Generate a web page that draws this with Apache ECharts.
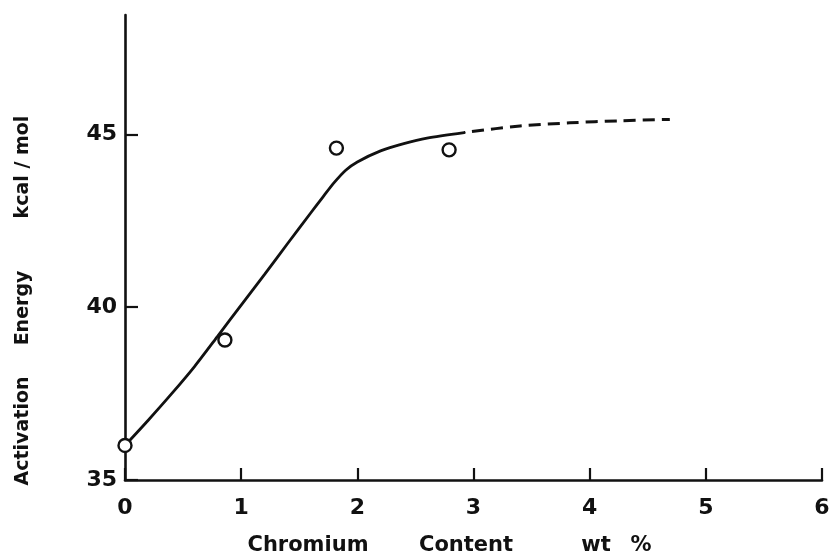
<!DOCTYPE html>
<html>
<head>
<meta charset="utf-8">
<script src="https://cdn.jsdelivr.net/npm/echarts@6/dist/echarts.min.js"></script>
<style>
  html, body { margin: 0; padding: 0; background: #ffffff; }
  #chart { width: 833px; height: 556px; }
</style>
</head>
<body>
<div id="chart"></div>
<script>
// Measured activation energies (kcal/mol) against chromium content (wt %)
const measuredCr = [0, 0.86, 1.82, 2.79];
const measuredQ = [36.0, 39.05, 44.6, 44.55];

// Fitted trend through the measurements (solid part)
const trendCr = [0, 0.2, 0.4, 0.6, 0.8, 1.0, 1.2, 1.4, 1.6, 1.7, 1.8, 1.9, 2.0, 2.2, 2.4, 2.6, 2.92];
const trendQ = [36.0, 36.73, 37.49, 38.29, 39.17, 40.06, 40.94, 41.84, 42.73, 43.17, 43.6, 43.96, 44.2, 44.52, 44.73, 44.89, 45.05];

// Extrapolated part of the trend (dashed)
const extrapCr = [2.92, 3.4, 3.83, 4.26, 4.69];
const extrapQ = [45.05, 45.24, 45.33, 45.39, 45.43];

// Axis ticks
const xTicks = [0, 1, 2, 3, 4, 5, 6];
const yTicks = [35, 40, 45];

const xTitleWords = ['Chromium', 'Content', 'wt', '%'];
const yTitleWords = ['Activation', 'Energy', 'kcal / mol'];

const pairs = (xs, ys) => xs.map((x, i) => [x, ys[i]]);

const INK = '#111111';

const chart = echarts.init(document.getElementById('chart'), null, { renderer: 'canvas' });

const xWordPos = [[308, 546], [466, 546], [596, 546], [641, 546]];
const yWordPos = [[23, 431], [23, 308], [23, 167]];

const graphics = [];
xTitleWords.forEach((w, i) => {
  graphics.push({
    type: 'text', x: xWordPos[i][0], y: xWordPos[i][1],
    style: { text: w, font: 'bold 21px "DejaVu Sans", sans-serif', fill: INK, align: 'center', verticalAlign: 'middle' }
  });
});
yTitleWords.forEach((w, i) => {
  graphics.push({
    type: 'text', x: yWordPos[i][0], y: yWordPos[i][1], rotation: Math.PI / 2,
    style: { text: w, font: 'bold 19px "DejaVu Sans", sans-serif', fill: INK, align: 'center', verticalAlign: 'middle' }
  });
});

chart.setOption({
  animation: false,
  backgroundColor: '#ffffff',
  grid: { left: 125, right: 11, top: 15, bottom: 76, containLabel: false },
  xAxis: {
    type: 'value',
    min: xTicks[0],
    max: xTicks[xTicks.length - 1],
    interval: 1,
    axisLine: { show: true, onZero: false, lineStyle: { color: INK, width: 2.6 } },
    axisTick: { show: true, inside: true, length: 12, lineStyle: { color: INK, width: 2.2 }, customValues: xTicks },
    axisLabel: {
      customValues: xTicks,
      margin: 17,
      color: INK,
      fontFamily: '"DejaVu Sans", sans-serif',
      fontWeight: 'bold',
      fontSize: 22
    },
    splitLine: { show: false }
  },
  yAxis: {
    type: 'value',
    min: 35,
    max: 48.45,
    interval: 5,
    axisLine: { show: true, onZero: false, lineStyle: { color: INK, width: 2.6 } },
    axisTick: { show: true, inside: true, length: 13, lineStyle: { color: INK, width: 2.2 }, customValues: yTicks },
    axisLabel: {
      customValues: yTicks,
      margin: 8,
      color: INK,
      fontFamily: '"DejaVu Sans", sans-serif',
      fontWeight: 'bold',
      fontSize: 22
    },
    splitLine: { show: false }
  },
  graphic: graphics,
  series: [
    {
      name: 'trend',
      type: 'line',
      data: pairs(trendCr, trendQ),
      smooth: 0.25,
      showSymbol: false,
      symbol: 'none',
      lineStyle: { color: INK, width: 2.8, type: 'solid', cap: 'round' },
      z: 2
    },
    {
      name: 'extrapolation',
      type: 'line',
      data: pairs(extrapCr, extrapQ),
      smooth: 0.3,
      showSymbol: false,
      symbol: 'none',
      lineStyle: { color: INK, width: 3, type: [12, 7], dashOffset: -8 },
      z: 2
    },
    {
      name: 'measured',
      type: 'scatter',
      data: pairs(measuredCr, measuredQ),
      symbol: 'circle',
      symbolSize: 13,
      itemStyle: { color: '#ffffff', borderColor: INK, borderWidth: 2.4, opacity: 1 },
      z: 5
    }
  ]
});
</script>
</body>
</html>
